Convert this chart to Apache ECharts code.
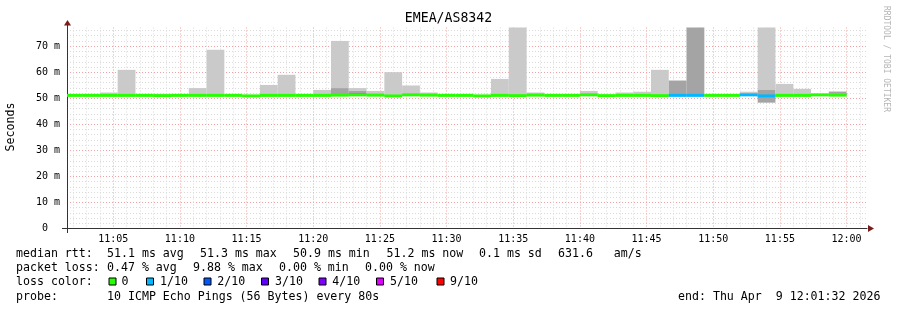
<!DOCTYPE html>
<html><head><meta charset="utf-8">
<script src="https://cdn.jsdelivr.net/npm/echarts@6/dist/echarts.min.js"></script>
<style>html,body{margin:0;padding:0;background:#fff;}#c{width:897px;height:310px;}</style>
</head><body><div id="c"></div>
<script>
// ---- data ----
const rangeStart = '11:01:32';
const rangeEnd = '12:01:32';
const rrdStep = 80; // seconds per sample
const xTickLabels = ['11:05','11:10','11:15','11:20','11:25','11:30','11:35','11:40','11:45','11:50','11:55','12:00'];
const yTickLabels = [0,10,20,30,40,50,60,70];
const yMax = 77.15;
const slotEnds = ['11:02:40','11:04:00','11:05:20','11:06:40','11:08:00','11:09:20','11:10:40','11:12:00','11:13:20','11:14:40',
'11:16:00','11:17:20','11:18:40','11:20:00','11:21:20','11:22:40','11:24:00','11:25:20','11:26:40','11:28:00',
'11:29:20','11:30:40','11:32:00','11:33:20','11:34:40','11:36:00','11:37:20','11:38:40','11:40:00','11:41:20',
'11:42:40','11:44:00','11:45:20','11:46:40','11:48:00','11:49:20','11:50:40','11:52:00','11:53:20','11:54:40',
'11:56:00','11:57:20','11:58:40','12:00:00'];
const medianRtt = [51.1,51.1,51.1,51.1,51.1,51.0,51.1,51.1,51.1,51.1,
 50.9,51.1,51.1,51.1,51.1,51.2,51.3,51.2,50.9,51.3,
 51.2,51.1,51.1,50.9,51.1,51.0,51.2,51.1,51.1,51.3,
 51.0,51.1,51.1,51.0,51.1,51.1,51.1,51.1,51.3,50.9,
 51.1,51.1,51.3,51.2];
const lostPings = [0,0,0,0,0,0,0,0,0,0, 0,0,0,0,0,0,0,0,0,0, 0,0,0,0,0,0,0,0,0,0, 0,0,0,0,1,1,0,0,1,1, 0,0,0,0];
const ping10 = [51.4,51.4,52.2,60.9,51.4,51.7,51.4,53.9,68.6,51.4,
 51.2,55.1,59.0,51.4,53.2,72.0,53.9,52.8,60.0,54.9,
 52.2,51.4,51.4,51.2,57.4,79.0,52.2,51.4,51.4,52.8,
 51.3,52.2,52.5,60.9,null,null,51.4,51.4,52.5,79.0,
 55.5,53.6,51.6,52.7];
const ping9 = [51.3,51.3,51.4,51.5,51.3,51.2,51.3,51.4,51.5,51.3,
 51.1,51.4,51.5,51.3,51.4,53.9,52.8,51.5,51.3,51.6,
 51.5,51.3,51.3,51.1,51.4,51.4,51.5,51.3,51.3,51.6,
 51.2,51.4,51.4,51.3,56.8,79.0,51.3,51.3,51.6,53.2,
 51.4,51.4,51.5,52.5];
const ping8 = [51.2,51.2,51.2,51.3,51.2,51.1,51.2,51.2,51.3,51.2,
 51.0,51.2,51.3,51.2,51.2,51.5,52.0,51.3,51.0,51.4,
 51.3,51.2,51.2,51.0,51.2,51.2,51.3,51.2,51.2,51.4,
 51.1,51.2,51.2,51.1,51.4,51.4,51.2,51.2,51.4,51.2,
 51.2,51.2,51.4,51.7];
const ping3 = [51.0,51.0,51.0,51.0,51.0,50.9,51.0,51.0,51.0,51.0,
 50.8,51.0,51.0,51.0,51.0,51.1,51.2,51.1,50.8,51.2,
 51.1,51.0,51.0,50.8,51.0,50.9,51.1,51.0,51.0,51.2,
 50.9,51.0,51.0,50.9,51.0,51.0,51.0,51.0,51.2,50.6,
 51.0,51.0,51.2,51.1];
const ping2 = [50.9,50.9,50.9,50.9,50.9,50.8,50.9,50.9,50.9,50.9,
 50.7,50.9,50.9,50.9,50.9,51.0,51.1,51.0,50.7,51.1,
 51.0,50.9,50.9,50.7,50.9,50.8,51.0,50.9,50.9,51.1,
 50.8,50.9,50.9,50.8,50.9,50.9,50.9,50.9,51.1,48.3,
 50.9,50.9,51.1,51.0];
const ping1 = [50.8,50.8,50.8,50.8,50.8,50.7,50.8,50.8,50.8,50.8,
 50.6,50.8,50.8,50.8,50.8,50.9,51.0,50.9,50.6,51.0,
 50.9,50.8,50.8,50.6,50.8,50.7,50.9,50.8,50.8,51.0,
 50.7,50.8,50.8,50.7,50.8,50.8,50.8,50.8,51.0,48.3,
 50.8,50.8,51.0,50.9];
const lossColors = ['#26ff00','#00b8ff','#0059ff','#5e00ff','#7e00ff','#dd00ff','#ff0000','#ff0000','#ff0000','#ff0000','#ff0000'];
const smokeShades = ['#cacaca','#a4a4a4','#7e7e7e'];

// ---- helpers ----
function secs(s){const p=s.split(':').map(Number);return (p[0]-11)*3600+p[1]*60+(p[2]||0);}
const xMin = secs(rangeStart), xMax = secs(rangeEnd);
const majorX = xTickLabels.map(t=>secs(t));
const minorX = [];
for(let v=Math.ceil(xMin/60)*60; v<xMax; v+=60){ if(v%300!==0) minorX.push(v); }
const minorY = [];
for(let v=2; v<yMax; v+=2){ if(v%10!==0) minorY.push(v); }

const smokeData = [];
const medianData = [];
slotEnds.forEach((e,i)=>{
  const end = secs(e), start = end - rrdStep;
  const m = medianRtt[i];
  const bands = [[ping1[i],ping2[i],0],[ping2[i],ping3[i],1],[ping3[i],m,2],[m,ping8[i],2],[ping8[i],ping9[i],1],[ping9[i],ping10[i],0]];
  bands.forEach(b=>{ if(b[0]!=null && b[1]!=null && b[1]>b[0]) smokeData.push([start,end,b[0],b[1],b[2]]); });
  if(m!=null) medianData.push([start,end,m,lostPings[i]]);
});

function clip(r, cs){
  const x0=Math.max(r.x,cs.x), x1=Math.min(r.x+r.width,cs.x+cs.width);
  const y0=Math.max(r.y,cs.y), y1=Math.min(r.y+r.height,cs.y+cs.height);
  if(x1<=x0||y1<=y0) return null;
  return {x:x0,y:y0,width:x1-x0,height:y1-y0};
}

const MONO = '"DejaVu Sans Mono", monospace';
const chart = echarts.init(document.getElementById('c'), null, {renderer:'canvas'});

const GL = 67, GT = 27.5, GW = 800, GH = 201;

function txt(text,x,y,size,extra){
  return Object.assign({type:'text', x:x, y:y, silent:true, style:{text:text, font:size+'px '+MONO, fill:'#000', textAlign:'left', align:'left', textVerticalAlign:'middle', verticalAlign:'middle'}}, extra||{});
}
const LF = 11.6;
const graphics = [
  txt('EMEA/AS8342',448.5,19,13.2,{style:{text:'EMEA/AS8342',font:'13.2px '+MONO,fill:'#000',textAlign:'center',align:'center',textVerticalAlign:'middle',verticalAlign:'middle'}}),
  {type:'text', x:11, y:127, rotation:Math.PI/2, silent:true, style:{text:'Seconds', font:'11.6px '+MONO, fill:'#000', textAlign:'center', align:'center', textVerticalAlign:'middle', verticalAlign:'middle'}},
  {type:'text', x:886, y:59, rotation:-Math.PI/2, silent:true, style:{text:'RRDTOOL / TOBI OETIKER', font:'8px '+MONO, fill:'#b5b5b5', textAlign:'center', align:'center', textVerticalAlign:'middle', verticalAlign:'middle'}},
  txt('median rtt:',16,254.3,LF), txt('51.1 ms avg',107,254.3,LF), txt('51.3 ms max',200,254.3,LF),
  txt('50.9 ms min',293,254.3,LF), txt('51.2 ms now',386.5,254.3,LF), txt('0.1 ms sd',479,254.3,LF),
  txt('631.6   am/s',558,254.3,LF),
  txt('packet loss:',16,268.3,LF), txt('0.47 % avg',107,268.3,LF), txt('9.88 % max',193,268.3,LF),
  txt('0.00 % min',279,268.3,LF), txt('0.00 % now',365,268.3,LF),
  txt('loss color:',16,282,LF),
  txt('probe:',16,296.7,LF), txt('10 ICMP Echo Pings (56 Bytes) every 80s',107,296.7,LF),
  txt('end: Thu Apr  9 12:01:32 2026',678,296.7,LF),
  // axis decorations
  {type:'polygon', silent:true, shape:{points:[[64,25.5],[71,25.5],[67.5,20]]}, style:{fill:'#7a1c1c'}},
  {type:'polygon', silent:true, shape:{points:[[868,225],[868,232],[874,228.5]]}, style:{fill:'#7a1c1c'}},
  {type:'line', silent:true, shape:{x1:62,y1:228.5,x2:67,y2:228.5}, style:{stroke:'#333',lineWidth:1}},
  {type:'line', silent:true, shape:{x1:67.5,y1:228,x2:67.5,y2:233}, style:{stroke:'#333',lineWidth:1}},
  {type:'line', silent:true, shape:{x1:67.5,y1:25,x2:67.5,y2:28}, style:{stroke:'#333',lineWidth:1}}
];
const lossItems = [['0',108.5,121.5,0],['1/10',146,160,1],['2/10',203.5,217.3,2],['3/10',261,275,3],['4/10',318.5,332.3,4],['5/10',376,390,5],['9/10',436.5,450,9]];
lossItems.forEach(it=>{
  graphics.push({type:'rect', silent:true, shape:{x:it[1]+0.5,y:278,width:7,height:7}, style:{fill:lossColors[it[3]], stroke:'#000', lineWidth:1}});
  graphics.push(txt(it[0],it[2],282,LF));
});

const option = {
  animation:false,
  backgroundColor:'#ffffff',
  grid:{left:GL, top:GT, width:GW, height:GH, containLabel:false},
  xAxis:[
    {type:'value', min:xMin, max:xMax,
     axisLine:{show:true, onZero:false, lineStyle:{color:'#333', width:1}},
     axisTick:{show:false, customValues:majorX},
     axisLabel:{show:true, customValues:majorX, margin:6, color:'#000', fontFamily:MONO, fontSize:10,
       formatter:function(v){const h=11+Math.floor(v/3600), m=Math.floor((v%3600)/60); return h+':'+(m<10?'0':'')+m;}},
     splitLine:{show:true, lineStyle:{color:'#f0a2a2', width:1, type:[1,2]}}},
    {type:'value', min:xMin, max:xMax, position:'bottom',
     axisLine:{show:false}, axisTick:{show:false, customValues:minorX}, axisLabel:{show:false},
     splitLine:{show:true, lineStyle:{color:'#dadada', width:1, type:[1,2]}}}
  ],
  yAxis:[
    {type:'value', min:0, max:yMax,
     axisLine:{show:true, onZero:false, lineStyle:{color:'#333', width:1}},
     axisTick:{show:false, customValues:yTickLabels.filter(v=>v>0)},
     axisLabel:{show:true, customValues:yTickLabels, margin:7, color:'#000', fontFamily:MONO, fontSize:10,
       formatter:function(v){return v===0?'0  ':(v+' m');}},
     splitLine:{show:true, lineStyle:{color:'#f0a2a2', width:1, type:[1,2]}}},
    {type:'value', min:0, max:yMax, position:'left',
     axisLine:{show:false}, axisTick:{show:false, customValues:minorY}, axisLabel:{show:false},
     splitLine:{show:true, lineStyle:{color:'#dadada', width:1, type:[1,2]}}}
  ],
  series:[
    {type:'custom', name:'smoke', xAxisIndex:0, yAxisIndex:0, data:smokeData, encode:{x:[0,1], y:[2,3]}, silent:true,
     renderItem:function(params, api){
       const p0 = api.coord([api.value(0), api.value(3)]);
       const p1 = api.coord([api.value(1), api.value(2)]);
       const r = clip({x:p0[0], y:p0[1], width:p1[0]-p0[0], height:p1[1]-p0[1]}, params.coordSys);
       if(!r) return null;
       return {type:'rect', shape:r, style:{fill:smokeShades[api.value(4)]}};
     }},
    {type:'custom', name:'median rtt', xAxisIndex:0, yAxisIndex:0, data:medianData, encode:{x:[0,1], y:2}, silent:true, z:3,
     renderItem:function(params, api){
       const p0 = api.coord([api.value(0), api.value(2)]);
       const p1 = api.coord([api.value(1), api.value(2)]);
       const r = clip({x:p0[0], y:p0[1]-1.5, width:p1[0]-p0[0], height:3}, params.coordSys);
       if(!r) return null;
       return {type:'rect', shape:r, style:{fill:lossColors[api.value(3)]}};
     }}
  ],
  graphic:graphics
};
chart.setOption(option);
</script></body></html>
